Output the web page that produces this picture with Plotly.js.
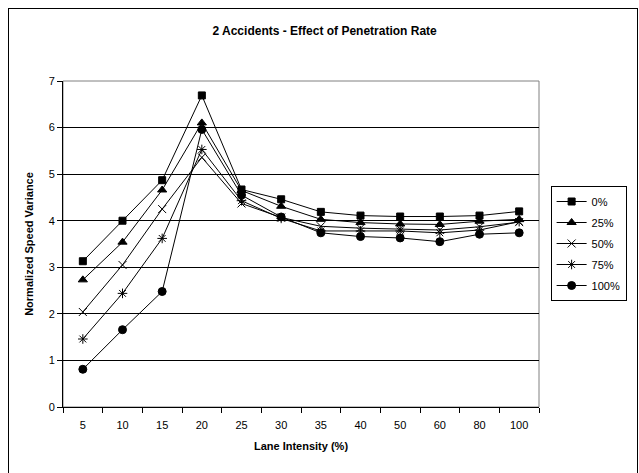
<!DOCTYPE html>
<html>
<head>
<meta charset="utf-8">
<script src="https://cdn.plot.ly/plotly-3.0.1.min.js"></script>
<style>
  html, body { margin: 0; padding: 0; background: #fff; }
  #wrap { position: relative; width: 639px; height: 473px; overflow: hidden; }
  #chart { position: absolute; left: 0; top: 0; width: 639px; height: 473px; }
  #frame { position: absolute; left: 8px; top: 8px; width: 628px; height: 480px;
           border: 1px solid #000; pointer-events: none; }
</style>
</head>
<body>
<div id="wrap">
  <div id="chart"></div>
  <div id="frame"></div>
</div>
<script>
const categories = ["5", "10", "15", "20", "25", "30", "35", "40", "50", "60", "80", "100"];
const seriesNames = ["0%", "25%", "50%", "75%", "100%"];
const rate0   = [3.13, 4.00, 4.87, 6.69, 4.67, 4.46, 4.19, 4.11, 4.09, 4.09, 4.11, 4.20];
const rate25  = [2.73, 3.54, 4.66, 6.10, 4.65, 4.31, 4.03, 3.96, 3.93, 3.92, 3.99, 4.03];
const rate50  = [2.04, 3.05, 4.25, 5.36, 4.37, 4.07, 3.88, 3.84, 3.82, 3.80, 3.87, 3.97];
const rate75  = [1.46, 2.44, 3.62, 5.53, 4.43, 4.05, 3.78, 3.78, 3.78, 3.74, 3.80, 3.98];
const rate100 = [0.81, 1.66, 2.48, 5.96, 4.55, 4.08, 3.74, 3.66, 3.63, 3.55, 3.71, 3.74];
const yTicks = [0, 1, 2, 3, 4, 5, 6, 7];

const seriesValues = [rate0, rate25, rate50, rate75, rate100];
const symbols = ["square", "triangle-up", "x-thin-open", "asterisk-open", "circle"];
const sizes = [7, 8, 8, 8, 8];

const font = "Liberation Sans, Arial, sans-serif";

const traces = seriesValues.map((vals, i) => ({
  type: "scatter",
  mode: "lines+markers",
  x: categories,
  y: vals,
  name: seriesNames[i],
  legendgroup: "g" + i,
  line: { color: "#000", width: 1 },
  marker: { symbol: symbols[i], size: sizes[i], color: "#000",
            line: { color: "#000", width: 1 } }
}));

const layout = {
  width: 639, height: 473,
  margin: { l: 63, r: 84, t: 81, b: 66 },
  paper_bgcolor: "rgba(0,0,0,0)",
  plot_bgcolor: "#fff",
  font: { family: font, size: 11, color: "#000" },
  title: { text: "<b>2 Accidents - Effect of Penetration Rate</b>",
           font: { family: font, size: 12, color: "#000" },
           x: 0.508, xref: "container", xanchor: "center",
           y: 1 - 31 / 473, yref: "container", yanchor: "middle" },
  xaxis: {
    type: "category",
    title: { text: "<b>Lane Intensity (%)</b>", font: { size: 11 }, standoff: 12 },
    showgrid: false, zeroline: false,
    showline: true, linecolor: "#000", linewidth: 1,
    ticks: "outside", ticklen: 5, tickcolor: "#000", tickson: "boundaries",
    ticklabelstandoff: 8,
    tickfont: { size: 11 },
    range: [-0.5, 11.5]
  },
  yaxis: {
    title: { text: "<b>Normalized Speed Variance</b>", font: { size: 11 }, standoff: 12 },
    range: [0, 7], tickvals: yTicks,
    showgrid: true, gridcolor: "#000", gridwidth: 1,
    zeroline: false,
    showline: true, linecolor: "#000", linewidth: 1,
    ticks: "outside", ticklen: 5, tickcolor: "#000",
    tickfont: { size: 11 }
  },
  shapes: [{
    type: "rect", xref: "paper", yref: "paper", x0: 0, x1: 1, y0: 0, y1: 1,
    line: { color: "#808080", width: 1 }, layer: "below"
  }],
  showlegend: true,
  legend: {
    x: (567 - 63) / 492, xanchor: "left",
    y: (407 - 186) / 326, yanchor: "top",
    bordercolor: "#000", borderwidth: 1, bgcolor: "#fff",
    font: { size: 11 }, tracegroupgap: 2,
    itemwidth: 30
  }
};

Plotly.newPlot("chart", traces, layout, { displayModeBar: false, staticPlot: true });
</script>
</body>
</html>
